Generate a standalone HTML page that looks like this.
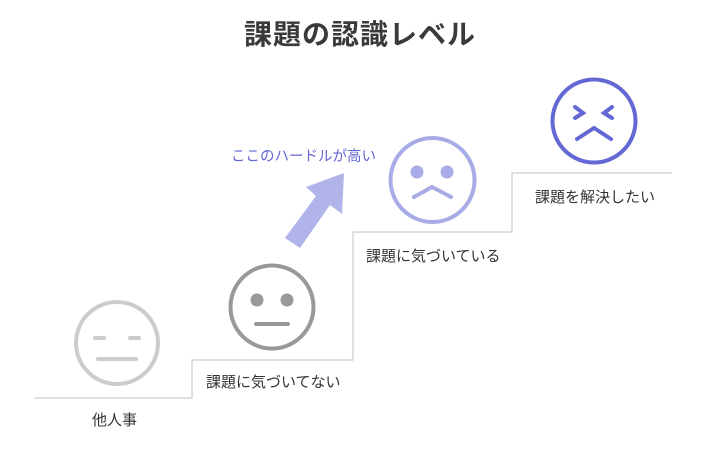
<!DOCTYPE html>
<html><head><meta charset="utf-8"><style>
html,body{margin:0;padding:0;background:#fff;}
body{width:720px;height:450px;position:relative;overflow:hidden;font-family:"Liberation Sans","Noto Sans CJK JP",sans-serif;}
.t{position:absolute;white-space:nowrap;}
</style></head><body>
<svg width="720" height="450" style="position:absolute;left:0;top:0">
<polyline points="34,398 192,398 192,360 353,360 353,232 512,232 512,173 672,173" fill="none" stroke="#cccccc" stroke-width="1.2"/>
<polygon points="344,173 306,187 316,196 285,238 300,248 330,205 342,214" fill="#b0b4e8"/>
<g fill="none" stroke-linecap="round">
<circle cx="117" cy="343" r="41" stroke="#cccccc" stroke-width="4"/>
<path d="M95 338H104M130 338H139M98 359H136" stroke="#cccccc" stroke-width="4"/>
<circle cx="272" cy="307" r="41.5" stroke="#999999" stroke-width="4"/>
<path d="M256 324H288" stroke="#999999" stroke-width="4"/>
<circle cx="432.5" cy="180" r="42" stroke="#a8ace6" stroke-width="4"/>
<path d="M414 197L432 187L451 197" stroke="#a8ace6" stroke-width="4"/>
<circle cx="594" cy="121" r="41.5" stroke="#6468d4" stroke-width="4"/>
<path d="M575 107L583 113L575 118M612 107L604 113L612 118M577 139L594 128L611 139" stroke="#6468d4" stroke-width="4"/>
</g>
<circle cx="257" cy="300" r="6.5" fill="#999999"/><circle cx="287" cy="300" r="6.5" fill="#999999"/>
<circle cx="417" cy="172" r="6.5" fill="#a8ace6"/><circle cx="447" cy="172" r="6.5" fill="#a8ace6"/>
</svg>
<div class="t" style="left:0;width:720px;text-align:center;top:13px;font-size:28px;font-weight:bold;color:#3a3a3a;letter-spacing:1px;">課題の認識レベル</div>
<div class="t" style="left:92px;top:409px;font-size:15px;color:#333;">他人事</div>
<div class="t" style="left:206px;top:371px;font-size:15px;color:#333;">課題に気づいてない</div>
<div class="t" style="left:366px;top:245px;font-size:15px;color:#333;">課題に気づいている</div>
<div class="t" style="left:535px;top:186px;font-size:15px;color:#333;">課題を解決したい</div>
<div class="t" style="left:231px;top:145px;font-size:14.5px;color:#6468d4;">ここのハードルが高い</div>
</body></html>
